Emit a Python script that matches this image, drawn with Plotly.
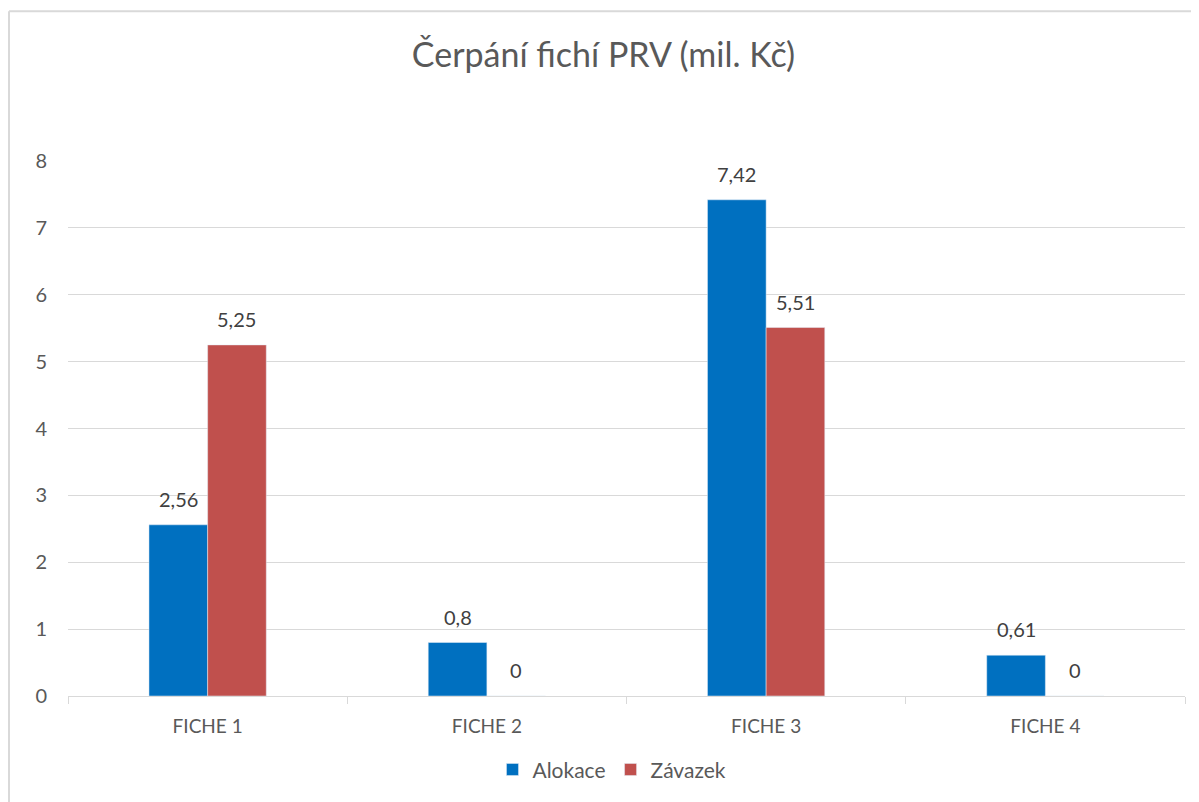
import plotly.graph_objects as go

FONT = 'Lato'
TITLE = 'Čerpání fichí PRV (mil. Kč)'
KATEGORIE = ['FICHE 1', 'FICHE 2', 'FICHE 3', 'FICHE 4']
ALOKACE = [2.56, 0.8, 7.42, 0.61]
ZAVAZEK = [5.25, 0, 5.51, 0]
Y_TICKS = [0, 1, 2, 3, 4, 5, 6, 7, 8]

BLUE, RED = '#0070C0', '#C0504D'
GRID = '#d9d9d9'

fig = go.Figure()
fig.add_bar(x=KATEGORIE, y=ALOKACE, name='Alokace', marker_color=BLUE)
fig.add_bar(x=KATEGORIE, y=ZAVAZEK, name='Závazek', marker_color=RED)

# stránka má okraj 8 px, graf tedy začíná na (8, 8)
OFF = 8
W, H = 1199 - OFF, 802 - OFF
L, R, T, B = 68 - OFF, 14, 161 - OFF, 103
plot_w = W - L - R
plot_h = H - T - B

# popisky hodnot nad sloupci (desetinná čárka)
bar_px = plot_w / len(KATEGORIE) * 0.21
for serie, shift in [(ALOKACE, -bar_px / 2), (ZAVAZEK, bar_px / 2)]:
    for k, v in zip(KATEGORIE, serie):
        fig.add_annotation(x=k, y=v, text=str(v).replace('.', ','), showarrow=False,
                           xshift=shift, yshift=26, font=dict(size=20, color='#404040'))

# rámeček grafu
x0 = (9 - 68) / plot_w
y1 = 1 + (161 - 10.5) / plot_h
fig.add_shape(type='line', xref='paper', yref='paper', x0=x0, x1=x0, y0=-0.3, y1=y1,
              line=dict(color=GRID, width=2))
fig.add_shape(type='line', xref='paper', yref='paper', x0=x0, x1=1.1, y0=y1, y1=y1,
              line=dict(color=GRID, width=2))

fig.update_layout(
    width=W, height=H, margin=dict(l=L, r=R, t=T, b=B),
    paper_bgcolor='white', plot_bgcolor='white',
    font=dict(family=FONT, color='#595959', size=19),
    title=dict(text=TITLE, x=0.5, xanchor='center', y=1 - (55 - OFF) / H, yanchor='middle',
               font=dict(size=34, color='#595959')),
    barmode='group', bargap=0.58, bargroupgap=0,
    legend=dict(orientation='h', x=0.487, xanchor='center', y=-0.138, yanchor='middle',
                font=dict(size=21), itemwidth=30, traceorder='normal'),
    xaxis=dict(showline=True, linecolor=GRID, linewidth=1, ticks='outside', tickson='boundaries',
               tickcolor=GRID, ticklen=7, showgrid=False, tickfont=dict(size=19),
               ticklabelstandoff=13),
    yaxis=dict(range=[0, 8], tickvals=Y_TICKS, showgrid=True, gridcolor=GRID, gridwidth=1,
               zeroline=False, ticks='', ticklabelstandoff=20, tickfont=dict(size=20)),
)

fig.write_html('out.html')
